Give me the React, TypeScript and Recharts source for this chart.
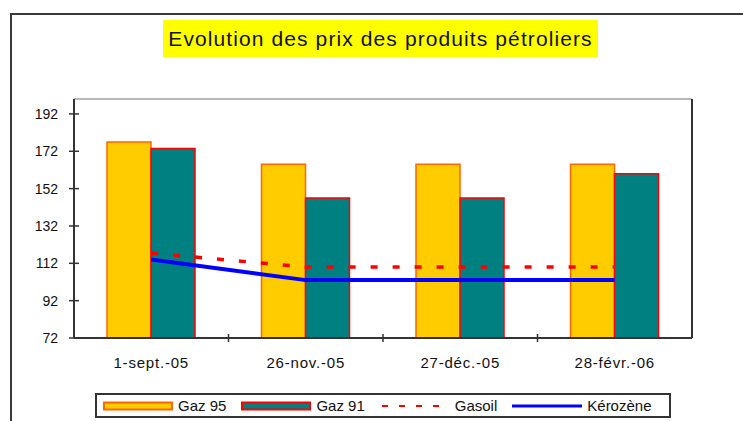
import React from 'react';
import { ComposedChart, Bar, Line, XAxis, YAxis, ReferenceLine } from 'recharts';

const categories = ['1-sept.-05', '26-nov.-05', '27-déc.-05', '28-févr.-06'];
const gaz95 = [177, 165, 165, 165];
const gaz91 = [173.5, 147, 147, 160];
const gasoil = [117.5, 110, 110, 110];
const kerozene = [114, 103, 103, 103];
const yTicks = [72, 92, 112, 132, 152, 172, 192];

const data = categories.map((date, i) => ({
  date,
  gaz95: gaz95[i],
  gaz91: gaz91[i],
  gasoil: gasoil[i],
  kerozene: kerozene[i],
}));

const FONT = '"Liberation Sans", Arial, sans-serif';
const AXIS = '#333';
const TS = 6;
const TM = 10;
const PLOT_LEFT = 74;
const PLOT_RIGHT = 692;
const BAND = (PLOT_RIGHT - PLOT_LEFT) / categories.length;

const LeftTick: React.FC<any> = ({ x, y, payload }) => (
  <g>
    <line x1={x + TS + TM - 5} x2={x + TS + TM + 5} y1={y} y2={y} stroke={AXIS} strokeWidth={1.5} />
    <text x={x} y={y} dy={5} textAnchor="end" fontSize={14} fill="#111" fontFamily={FONT}>
      {payload.value}
    </text>
  </g>
);

const RightTick: React.FC<any> = ({ x, y, payload }) => (
  <g>
    <line x1={x - TS - TM - 5} x2={x - TS - TM + 5} y1={y} y2={y} stroke={AXIS} strokeWidth={1.5} />
    <text x={x} y={y} dy={5} textAnchor="start" fontSize={14} fill="#111" fontFamily={FONT}>
      {payload.value}
    </text>
  </g>
);

const BottomTick: React.FC<any> = ({ x, y, payload, index }) => {
  const axisY = y - 6 - 12;
  return (
    <g>
      {index > 0 && (
        <line
          x1={x - BAND / 2}
          x2={x - BAND / 2}
          y1={axisY - 4}
          y2={axisY + 4}
          stroke={AXIS}
          strokeWidth={1.5}
        />
      )}
      <text x={x} y={y} dy={12} textAnchor="middle" fontSize={15} fill="#111" fontFamily={FONT} letterSpacing={0.8}>
        {payload.value}
      </text>
    </g>
  );
};

const legendItems = [
  { name: 'Gaz 95', kind: 'bar', fill: '#FFCC00', stroke: '#FF6600' },
  { name: 'Gaz 91', kind: 'bar', fill: '#008080', stroke: '#FF0000' },
  { name: 'Gasoil', kind: 'dash', stroke: '#FF0000' },
  { name: 'Kérozène', kind: 'line', stroke: '#0000FF' },
];

const Swatch: React.FC<any> = ({ item }) => (
  <svg width={70} height={10} style={{ display: 'block' }}>
    {item.kind === 'bar' && (
      <rect x={1} y={1.5} width={68} height={7} fill={item.fill} stroke={item.stroke} strokeWidth={2} />
    )}
    {item.kind === 'dash' && (
      <line x1={2} x2={70} y1={5} y2={5} stroke={item.stroke} strokeWidth={2} strokeDasharray="6 11" />
    )}
    {item.kind === 'line' && <line x1={0} x2={70} y1={5} y2={5} stroke={item.stroke} strokeWidth={3} />}
  </svg>
);

export default function App() {
  return (
    <div
      style={{
        position: 'fixed',
        left: 0,
        top: 0,
        width: 743,
        height: 421,
        background: '#fff',
        overflow: 'hidden',
        fontFamily: FONT,
      }}
    >
      <div
        style={{
          position: 'absolute',
          left: 10,
          top: 13,
          width: 900,
          height: 600,
          borderLeft: '2px solid #3a3a3a',
          borderTop: '2px solid #3a3a3a',
        }}
      />
      <div
        style={{
          position: 'absolute',
          left: 163,
          top: 20,
          width: 435,
          height: 37,
          background: '#FFFF00',
          color: '#111',
          fontSize: 21,
          letterSpacing: 1.1,
          lineHeight: '37px',
          textAlign: 'center',
          whiteSpace: 'nowrap',
        }}
      >
        Evolution des prix des produits pétroliers
      </div>
      <div style={{ position: 'absolute', left: 0, top: 0 }}>
        <ComposedChart
          width={743}
          height={421}
          data={data}
          margin={{ top: 99, right: 11, bottom: 53, left: 34 }}
          barGap={0}
          barSize={44}
        >
          <XAxis
            dataKey="date"
            height={30}
            stroke={AXIS}
            strokeWidth={2}
            tickLine={false}
            tickSize={6}
            tickMargin={12}
            interval={0}
            tick={<BottomTick />}
          />
          <YAxis
            yAxisId="left"
            domain={[72, 200]}
            ticks={yTicks}
            width={40}
            stroke={AXIS}
            strokeWidth={2}
            tickLine={false}
            tickSize={TS}
            tickMargin={TM}
            tick={<LeftTick />}
          />
          <YAxis
            yAxisId="right"
            orientation="right"
            domain={[72, 200]}
            ticks={yTicks}
            width={40}
            stroke={AXIS}
            strokeWidth={2}
            tickLine={false}
            tickSize={TS}
            tickMargin={TM}
            tick={<RightTick />}
          />
          <ReferenceLine yAxisId="left" y={200} stroke="#a0a0a0" strokeWidth={1.5} />
          <Bar yAxisId="left" dataKey="gaz95" fill="#FFCC00" stroke="#FF6600" strokeWidth={1.5} isAnimationActive={false} />
          <Bar yAxisId="left" dataKey="gaz91" fill="#008080" stroke="#FF0000" strokeWidth={1.5} isAnimationActive={false} />
          <Line
            yAxisId="left"
            type="linear"
            dataKey="gasoil"
            stroke="#FF0000"
            strokeWidth={3.5}
            strokeDasharray="7 15"
            dot={false}
            isAnimationActive={false}
          />
          <Line
            yAxisId="left"
            type="linear"
            dataKey="kerozene"
            stroke="#0000FF"
            strokeWidth={4}
            dot={false}
            isAnimationActive={false}
          />
        </ComposedChart>
      </div>
      <div
        style={{
          position: 'absolute',
          left: 95,
          top: 393,
          width: 566,
          height: 21,
          border: '2px solid #333',
          display: 'flex',
          alignItems: 'center',
          paddingLeft: 6,
          boxSizing: 'content-box',
          fontSize: 15,
          color: '#111',
        }}
      >
        {legendItems.map((item) => (
          <div key={item.name} style={{ display: 'flex', alignItems: 'center', marginRight: 15 }}>
            <Swatch item={item} />
            <span style={{ marginLeft: 5, whiteSpace: 'nowrap' }}>{item.name}</span>
          </div>
        ))}
      </div>
    </div>
  );
}
